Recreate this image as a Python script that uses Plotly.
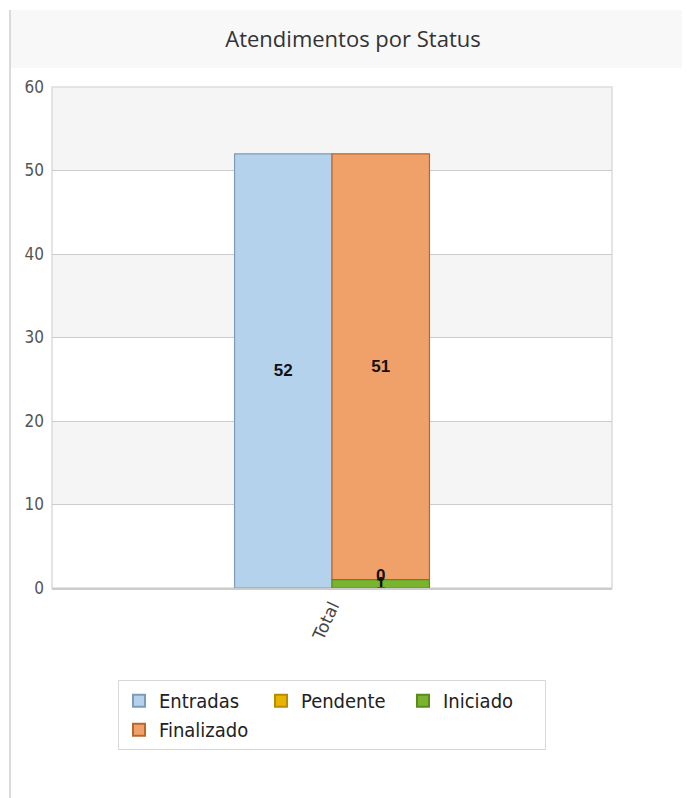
import plotly.graph_objects as go

categories = ["Total"]
entradas = [52]
pendente = [0]
iniciado = [1]
finalizado = [51]
y_ticks = [0, 10, 20, 30, 40, 50, 60]

title = "Atendimentos por Status"

fig = go.Figure()

def bar(name, vals, base, fill, line, group, rank, textpos="inside"):
    fig.add_trace(go.Bar(
        name=name, x=categories, y=vals, base=base,
        offsetgroup=group, legendrank=rank,
        marker=dict(color=fill, line=dict(color=line, width=1.2)),
        text=["<b>%s</b>" % v for v in vals], textposition=textpos, textangle=0,
        insidetextanchor="middle", cliponaxis=False,
        textfont=dict(family="Liberation Sans, Arial", size=17, color="#111"),
        constraintext="none",
    ))

base_ini = [p for p in pendente]
base_fin = [p + i for p, i in zip(pendente, iniciado)]

bar("Entradas", entradas, [0] * len(categories), "#b4d2ec", "#7c9cba", "a", 1)
bar("Finalizado", finalizado, base_fin, "#f0a16a", "#b9672e", "b", 4)
bar("Iniciado", iniciado, base_ini, "#7ab32e", "#5a8a1e", "b", 3)
bar("Pendente", pendente, [0] * len(categories), "#e8b400", "#b88c00", "b", 2, "outside")

# alternating bands
shapes = []
for lo, hi in zip(y_ticks[:-1], y_ticks[1:]):
    if (lo // 10) % 2 == 1:
        shapes.append(dict(type="rect", xref="paper", yref="y", x0=0, x1=1, y0=lo, y1=hi,
                           fillcolor="#f5f5f5", line=dict(width=0), layer="below"))
# plot border
shapes.append(dict(type="rect", xref="paper", yref="paper", x0=0, x1=1, y0=0, y1=1,
                   line=dict(color="#dcdcdc", width=1.5), layer="below"))
# title band
shapes.append(dict(type="rect", xref="paper", yref="paper", x0=-0.075, x1=1.2, y0=1.0379, y1=1.1537,
                   fillcolor="#f8f8f8", line=dict(width=0), layer="below"))
# left frame line
shapes.append(dict(type="line", xref="paper", yref="paper", x0=-0.075, x1=-0.075, y0=-0.45, y1=1.1537,
                   line=dict(color="#cfcfcf", width=1.5)))

fig.update_layout(
    width=690, height=798,
    margin=dict(l=44, r=86, t=79, b=218),
    paper_bgcolor="white", plot_bgcolor="white",
    barmode="group", bargap=0.652, bargroupgap=0,
    title=dict(text=title, x=0.5, xref="container", xanchor="center", y=1 - 31 / 798, yanchor="middle",
               font=dict(family="Open Sans, DejaVu Sans", size=22, color="#333")),
    shapes=shapes,
    showlegend=True,
    legend=dict(orientation="h", x=0.5, xanchor="center", y=-0.184, yanchor="top",
                entrywidth=97, bordercolor="#d8d8d8", borderwidth=1, bgcolor="white",
                font=dict(family="DejaVu Sans Condensed, Liberation Sans", size=20, color="#222"),
                traceorder="normal", itemsizing="constant"),
    font=dict(family="Open Sans, DejaVu Sans", color="#555"),
)
fig.update_xaxes(showgrid=False, tickangle=-65, ticks="",
                 tickfont=dict(family="DejaVu Sans", size=17, color="#444"),
                 showline=True, linecolor="#cccccc", linewidth=1.5)
fig.update_yaxes(range=[0, 60], tickvals=y_ticks, showgrid=True, gridcolor="#cccccc", gridwidth=1,
                 zeroline=False, ticks="", tickfont=dict(family="DejaVu Sans Condensed, DejaVu Sans", size=17, color="#555"),
                 ticklabelstandoff=7)

fig.write_html("out.html")
